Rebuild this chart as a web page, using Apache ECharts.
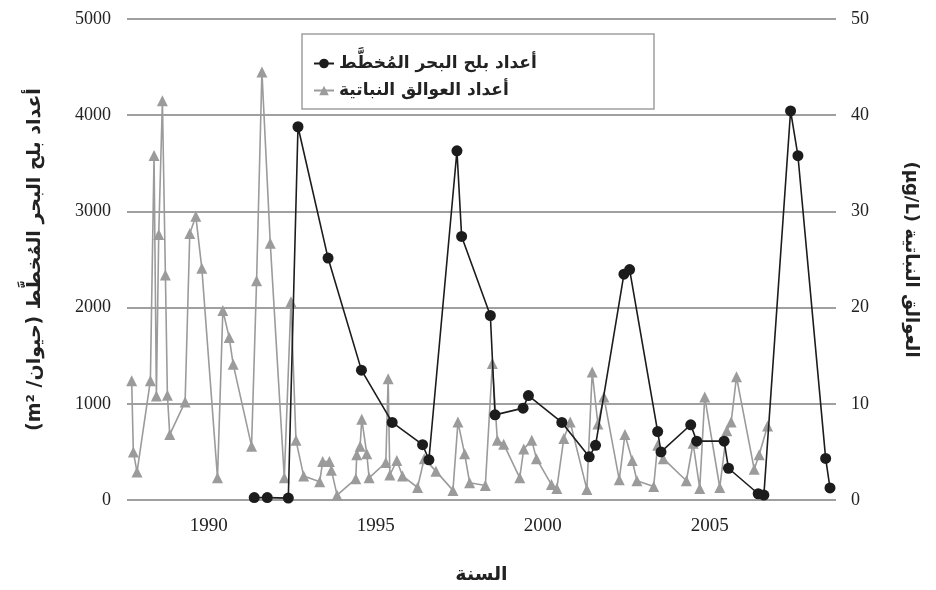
<!DOCTYPE html>
<html>
<head>
<meta charset="utf-8">
<script src="https://cdn.jsdelivr.net/npm/echarts@6/dist/echarts.min.js"></script>
<style>
  html, body { margin: 0; padding: 0; background: #fff; }
  #chart { width: 936px; height: 590px; }
</style>
</head>
<body>
<div id="chart" dir="rtl"></div>
<script>
// mussel counts (left axis, animals / m2)
var musselYears = [1991.36, 1991.75, 1992.38, 1992.67, 1993.57, 1994.57, 1995.49, 1996.40, 1996.59,
  1997.43, 1997.57, 1998.43, 1998.57, 1999.41, 1999.57, 2000.57, 2001.39, 2001.58, 2002.43, 2002.60,
  2003.44, 2003.54, 2004.43, 2004.61, 2005.43, 2005.56, 2006.45, 2006.62, 2007.42, 2007.64, 2008.47, 2008.60];
var musselCounts = [25, 25, 20, 3880, 2515, 1350, 806, 575, 418,
  3630, 2740, 1918, 885, 955, 1085, 806, 449, 568, 2347, 2395,
  711, 500, 782, 612, 612, 330, 65, 51, 4044, 3579, 432, 126];

// phytoplankton (right axis, ug/L)
var algaeYears = [1987.69, 1987.74, 1987.85, 1988.25, 1988.36, 1988.43, 1988.50, 1988.61, 1988.70, 1988.76,
  1988.83, 1989.29, 1989.43, 1989.61, 1989.79, 1990.26, 1990.42, 1990.61, 1990.73, 1991.28,
  1991.43, 1991.59, 1991.84, 1992.26, 1992.46, 1992.61, 1992.84, 1993.32, 1993.41, 1993.61,
  1993.67, 1993.84, 1994.40, 1994.43, 1994.53, 1994.58, 1994.73, 1994.80, 1995.30, 1995.37,
  1995.42, 1995.63, 1995.80, 1996.25, 1996.45, 1996.80, 1997.31, 1997.46, 1997.66, 1997.81,
  1998.28, 1998.49, 1998.64, 1998.83, 1999.31, 1999.43, 1999.67, 1999.81, 2000.26, 2000.42,
  2000.63, 2000.82, 2001.32, 2001.48, 2001.65, 2001.83, 2002.29, 2002.46, 2002.68, 2002.82,
  2003.32, 2003.44, 2003.61, 2004.30, 2004.50, 2004.70, 2004.85, 2005.30, 2005.51, 2005.64,
  2005.80, 2006.33, 2006.48, 2006.73];
var algaeValues = [12.4, 5.0, 2.9, 12.4, 35.8, 10.8, 27.6, 41.5, 23.4, 10.9,
  6.8, 10.2, 27.7, 29.5, 24.1, 2.3, 19.7, 16.9, 14.1, 5.6,
  22.8, 44.5, 26.7, 2.3, 20.6, 6.2, 2.5, 1.9, 4.0, 4.0,
  3.1, 0.5, 2.2, 4.7, 5.6, 8.4, 4.8, 2.3, 3.9, 12.6,
  2.6, 4.1, 2.5, 1.3, 4.3, 3.0, 1.0, 8.1, 4.8, 1.8,
  1.5, 14.2, 6.2, 5.8, 2.3, 5.3, 6.2, 4.3, 1.6, 1.2,
  6.4, 8.1, 1.1, 13.3, 7.9, 10.7, 2.1, 6.8, 4.1, 2.0,
  1.4, 5.7, 4.3, 2.0, 5.9, 1.2, 10.7, 1.3, 7.2, 8.1,
  12.8, 3.2, 4.7, 7.7];

var yearTicks = [1990, 1995, 2000, 2005];

var musselName = 'أعداد بلح البحر المُخطَّط';
var algaeName = 'أعداد العوالق النباتية';

function pairs(xs, ys) {
  var out = [];
  for (var i = 0; i < xs.length; i++) out.push([xs[i], ys[i]]);
  return out;
}

// plain numbers, no thousands separator
function plain(v) { return String(v); }

var numFont = { fontFamily: 'Liberation Serif', fontSize: 18, color: '#222', formatter: plain };
var arFont = 'DejaVu Sans';

var chart = echarts.init(document.getElementById('chart'), null, { renderer: 'canvas' });
chart.setOption({
  animation: false,
  backgroundColor: '#fff',
  grid: { left: 127, right: 100, top: 19, bottom: 81, containLabel: false },
  legend: {
    orient: 'vertical',
    left: 308,
    top: 50,
    itemGap: 10,
    itemWidth: 20,
    itemHeight: 12,
    data: [musselName, algaeName],
    textStyle: { fontFamily: arFont, fontSize: 17, fontWeight: 'bold', color: '#222' }
  },
  graphic: [{
    type: 'rect',
    shape: { x: 302, y: 34, width: 352, height: 75 },
    style: { fill: 'none', stroke: '#a0a0a0', lineWidth: 1.5 },
    z: -1
  }],
  xAxis: {
    type: 'value',
    min: 1987.55,
    max: 2008.78,
    name: 'السنة',
    nameLocation: 'middle',
    nameGap: 66,
    nameTextStyle: { fontFamily: arFont, fontSize: 19, fontWeight: 'bold', color: '#222' },
    axisLine: { show: false },
    axisTick: { show: false },
    splitLine: { show: false },
    axisLabel: Object.assign({}, numFont, { customValues: yearTicks, margin: 17, fontSize: 19 })
  },
  yAxis: [{
    type: 'value',
    min: 0,
    max: 5000,
    interval: 1000,
    position: 'left',
    name: 'أعداد بلح البحر المُخطَّط (حيوان/ m²)',
    nameLocation: 'middle',
    nameRotate: 90,
    nameGap: 82,
    nameTextStyle: { fontFamily: arFont, fontSize: 19, fontWeight: 'bold', color: '#222' },
    axisLine: { show: false },
    axisTick: { show: false },
    axisLabel: Object.assign({}, numFont, { margin: 16 }),
    splitLine: { lineStyle: { color: '#a0a0a0', width: 2 } }
  }, {
    type: 'value',
    min: 0,
    max: 50,
    interval: 10,
    position: 'right',
    name: 'العوالق النباتية (µg/L)',
    nameLocation: 'middle',
    nameRotate: -90,
    nameGap: 66,
    nameTextStyle: { fontFamily: arFont, fontSize: 18, fontWeight: 'bold', color: '#222' },
    axisLine: { show: false },
    axisTick: { show: false },
    axisLabel: Object.assign({}, numFont, { margin: 15 }),
    splitLine: { show: false }
  }],
  series: [{
    name: algaeName,
    type: 'line',
    yAxisIndex: 1,
    data: pairs(algaeYears, algaeValues),
    symbol: 'triangle',
    symbolSize: 11,
    itemStyle: { color: '#9b9b9b' },
    lineStyle: { color: '#9b9b9b', width: 1.6 },
    z: 2
  }, {
    name: musselName,
    type: 'line',
    yAxisIndex: 0,
    data: pairs(musselYears, musselCounts),
    symbol: 'circle',
    symbolSize: 11,
    itemStyle: { color: '#1c1c1c' },
    lineStyle: { color: '#1c1c1c', width: 1.6 },
    z: 3
  }]
});
</script>
</body>
</html>
